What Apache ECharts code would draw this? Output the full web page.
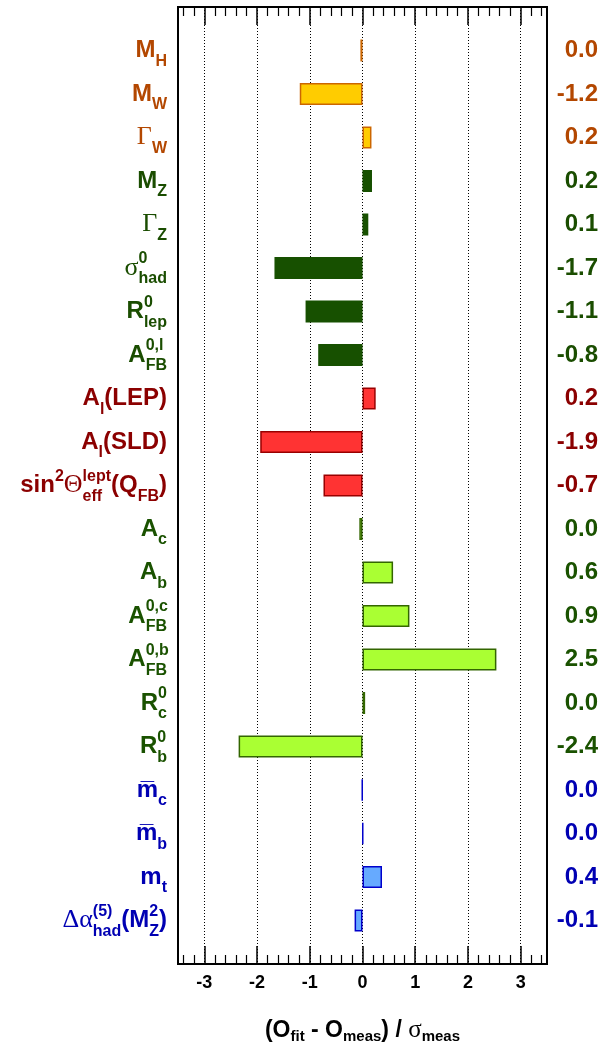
<!DOCTYPE html>
<html>
<head>
<meta charset="utf-8">
<script src="https://cdn.jsdelivr.net/npm/echarts@6/dist/echarts.min.js"></script>
<style>
html, body { margin: 0; padding: 0; background: #fff; }
#chart_content { width: 605px; height: 1050px; }
</style>
</head>
<body>
<div id="chart_content"></div>
<script>
// observables, top to bottom
const labels = [
  '{n|M}{sub|H}',
  '{n|M}{sub|W}',
  '{g|Γ}{sub|W}',
  '{n|M}{sub|Z}',
  '{g|Γ}{sub|Z}',
  '{g|σ}{supz|0}{sub|had}',
  '{n|R}{supz|0}{sub|lep}',
  '{n|A}{supz|0,l}{sub|FB}',
  '{n|A}{sub|l}{n|(LEP)}',
  '{n|A}{sub|l}{n|(SLD)}',
  '{n|sin}{sup|2}{g|Θ}{subz|eff}{sup|lept}{n|(Q}{sub|FB}{n|)}',
  '{n|A}{sub|c}',
  '{n|A}{sub|b}',
  '{n|A}{supz|0,c}{sub|FB}',
  '{n|A}{supz|0,b}{sub|FB}',
  '{n|R}{supz|0}{sub|c}',
  '{n|R}{supz|0}{sub|b}',
  '{n|m\u0305}{sub|c}',
  '{n|m\u0305}{sub|b}',
  '{n|m}{sub|t}',
  '{g|Δα}{supz|(5)}{sub|had}{n|(M}{supz|2}{sub|Z}{n|)}'
];
// (O_fit - O_meas) / sigma_meas
const values = [-0.04, -1.19, 0.17, 0.18, 0.11, -1.67, -1.08, -0.84, 0.25, -1.94, -0.74,
  -0.06, 0.58, 0.89, 2.54, 0.05, -2.35, -0.01, 0.01, 0.37, -0.15];
const pulls = ['0.0', '-1.2', '0.2', '0.2', '0.1', '-1.7', '-1.1', '-0.8', '0.2', '-1.9', '-0.7',
  '0.0', '0.6', '0.9', '2.5', '0.0', '-2.4', '0.0', '0.0', '0.4', '-0.1'];
// 0 higgs/W, 1 Z lineshape, 2 lepton asym, 3 heavy flavour, 4 masses
const groups = [0, 0, 0, 1, 1, 1, 1, 1, 2, 2, 2, 3, 3, 3, 3, 3, 3, 4, 4, 4, 4];
const xTicks = ['-3', '-2', '-1', '0', '1', '2', '3'];

const labelColor = ['#b34700', '#1a4d00', '#8b0000', '#1a5200', '#0000b3'];
const barFill = ['#ffcc00', '#175000', '#ff3333', '#aaff33', '#66aaff'];
const barBorder = ['#cc6600', '#175000', '#990000', '#336600', '#0000cc'];

const sans = 'Liberation Sans, Arial, sans-serif';
const serif = 'Liberation Serif, Times New Roman, serif';

const richLeft = {
  n: { fontFamily: sans, fontSize: 24, fontWeight: 'bold', align: 'left' },
  g: { fontFamily: serif, fontSize: 26, align: 'left' },
  sub: { fontFamily: sans, fontSize: 16, fontWeight: 'bold', padding: [22, 0, 0, 0], align: 'left' },
  sup: { fontFamily: sans, fontSize: 16, fontWeight: 'bold', padding: [0, 0, 18, 0], align: 'left' },
  subz: { fontFamily: sans, fontSize: 16, fontWeight: 'bold', padding: [22, 0, 0, 0], align: 'left', width: 0 },
  supz: { fontFamily: sans, fontSize: 16, fontWeight: 'bold', padding: [0, 0, 18, 0], align: 'left', width: 0 }
};

const myChart = echarts.init(document.getElementById('chart_content'));

const option = {
  animation: false,
  backgroundColor: '#fff',
  grid: [
    // frame with ticks
    { left: 178, right: 58, top: 7, bottom: 86, show: true, borderColor: '#000', borderWidth: 2 },
    // bars
    { left: 178, right: 58, top: 28.7, bottom: 107.7 }
  ],
  xAxis: [
    {
      type: 'value',
      gridIndex: 0,
      min: -3.5,
      max: 3.5,
      splitNumber: 7,
      position: 'bottom',
      axisLine: { show: true, onZero: false, lineStyle: { color: '#000', width: 2 } },
      axisTick: { show: true, inside: true, length: 18, lineStyle: { color: '#000', width: 1.5 } },
      minorTick: { show: true, splitNumber: 5, length: 9, lineStyle: { color: '#000', width: 1.2 } },
      splitLine: { show: true, lineStyle: { color: '#000', width: 1, type: [1, 2] } },
      axisLabel: {
        showMinLabel: false,
        showMaxLabel: false,
        margin: 10,
        color: '#000',
        fontFamily: sans,
        fontWeight: 'bold',
        fontSize: 18,
        formatter: function (v) {
          const idx = Math.round(v) + 3;
          return Math.abs(v - Math.round(v)) < 1e-6 && xTicks[idx] ? xTicks[idx] : '';
        }
      },
      name: '{t|(O}{ts|fit}{t| - O}{ts|meas}{t|) / }{tg|σ}{ts|meas}',
      nameLocation: 'middle',
      nameGap: 53,
      nameTextStyle: {
        color: '#000',
        rich: {
          t: { fontFamily: sans, fontSize: 23, fontWeight: 'bold', align: 'left' },
          tg: { fontFamily: serif, fontSize: 25, align: 'left' },
          ts: { fontFamily: sans, fontSize: 15, fontWeight: 'bold', padding: [12, 0, 0, 0], align: 'left' }
        }
      }
    },
    {
      type: 'value',
      gridIndex: 0,
      min: -3.5,
      max: 3.5,
      splitNumber: 7,
      position: 'top',
      axisLine: { show: true, onZero: false, lineStyle: { color: '#000', width: 2 } },
      axisTick: { show: true, inside: true, length: 18, lineStyle: { color: '#000', width: 1.5 } },
      minorTick: { show: true, splitNumber: 5, length: 9, lineStyle: { color: '#000', width: 1.2 } },
      splitLine: { show: false },
      axisLabel: { show: false }
    },
    {
      type: 'value',
      gridIndex: 1,
      min: -3.5,
      max: 3.5,
      show: false
    }
  ],
  yAxis: [
    {
      type: 'value',
      gridIndex: 0,
      min: 0,
      max: 1,
      show: false
    },
    {
      type: 'category',
      gridIndex: 1,
      data: labels,
      inverse: true,
      position: 'left',
      axisLine: { show: false, onZero: false },
      axisTick: { show: false },
      splitLine: { show: false },
      axisLabel: {
        margin: 11,
        interval: 0,
        rich: richLeft,
        color: function (value, index) {
          return labelColor[groups[index]];
        }
      }
    },
    {
      type: 'category',
      gridIndex: 1,
      data: pulls,
      inverse: true,
      position: 'right',
      axisLine: { show: false, onZero: false },
      axisTick: { show: false },
      splitLine: { show: false },
      axisLabel: {
        margin: 51,
        interval: 0,
        align: 'right',
        fontFamily: sans,
        fontWeight: 'bold',
        fontSize: 24,
        color: function (value, index) {
          return labelColor[groups[index]];
        }
      }
    }
  ],
  series: [
    {
      type: 'bar',
      xAxisIndex: 2,
      yAxisIndex: 1,
      barWidth: 22,
      data: values.map(function (v, i) {
        return {
          value: v,
          itemStyle: {
            color: barFill[groups[i]],
            borderColor: barBorder[groups[i]],
            borderWidth: 1.5
          }
        };
      })
    }
  ]
};

myChart.setOption(option);
window.addEventListener('resize', function () {
  myChart.resize();
});
</script>
</body>
</html>
